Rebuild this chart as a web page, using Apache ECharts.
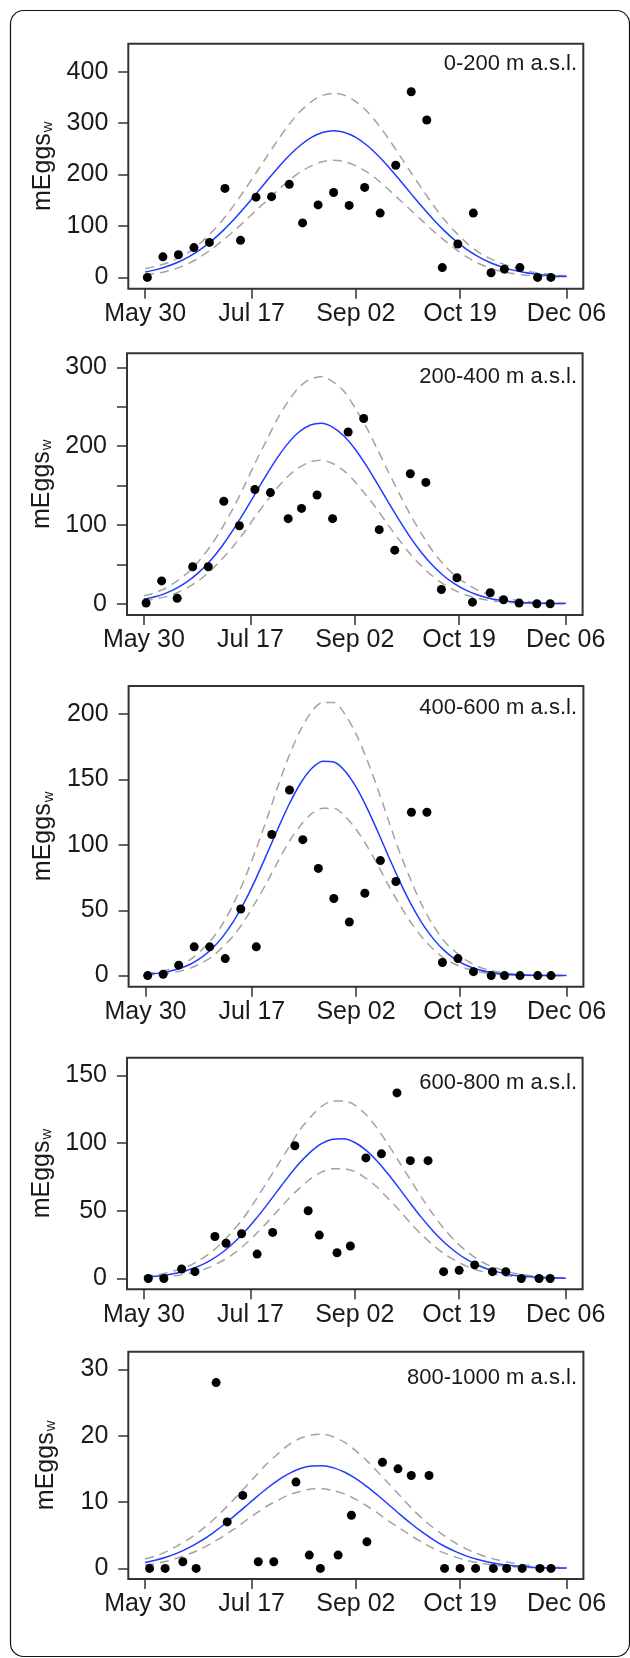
<!DOCTYPE html>
<html>
<head>
<meta charset="utf-8">
<script src="https://cdn.jsdelivr.net/npm/echarts@6/dist/echarts.min.js"></script>
<style>
  html, body { margin: 0; padding: 0; background: #fff; }
  #chart { width: 630px; height: 1658px; }
</style>
</head>
<body>
<div id="chart"></div>
<script>
// x axis: days after May 30
const dayTicks = [0, 48, 95, 142, 190];
const dayLabels = ['May 30', 'Jul 17', 'Sep 02', 'Oct 19', 'Dec 06'];
const panelNames = ['0-200 m a.s.l.', '200-400 m a.s.l.', '400-600 m a.s.l.', '600-800 m a.s.l.', '800-1000 m a.s.l.'];

// sampling days (lower belts / upper belts)
const sampleDaysLow = [1, 8, 15, 22, 29, 36, 43, 50, 57, 65, 71, 78, 85, 92, 99, 106, 113, 120, 127, 134, 141, 148, 156, 162, 169, 177, 183];
const sampleDaysHigh = [2, 9, 17, 23, 32, 37, 44, 51, 58, 68, 74, 79, 87, 93, 100, 107, 114, 120, 128, 135, 142, 149, 157, 163, 170, 178, 183];

// observed mEggs_w
const eggs0_200 = [0, 40, 44, 58, 68, 173, 72, 156, 157, 181, 106, 141, 165, 140, 175, 125, 218, 361, 306, 19, 65, 125, 9, 16, 19, 0, 0];
const eggs200_400 = [1, 29, 7, 47, 47, 130, 99, 145, 141, 108, 121, 138, 108, 218, 235, 94, 68, 165, 154, 18, 33, 2, 14, 5, 1, 0, 0];
const eggs400_600 = [0, 1, 8, 22, 22, 13, 51, 22, 108, 142, 104, 82, 59, 41, 63, 88, 72, 125, 125, 10, 13, 3, 0, 0, 0, 0, 0];
const eggs600_800 = [0, 0, 7, 5, 31, 26, 33, 18, 34, 98, 50, 32, 19, 24, 89, 92, 137, 87, 87, 5, 6, 10, 5, 5, 0, 0, 0];
const eggs800_1000 = [0, 0, 1, 0, 28, 7, 11, 1, 1, 13, 2, 0, 2, 8, 4, 16, 15, 14, 14, 0, 0, 0, 0, 0, 0, 0, 0];

// fitted curve + dashed bounds, read every 5 days (0..190)
const curveDays = [0, 5, 10, 15, 20, 25, 30, 35, 40, 45, 50, 55, 60, 65, 70, 75, 80, 85, 90, 95,
  100, 105, 110, 115, 120, 125, 130, 135, 140, 145, 150, 155, 160, 165, 170, 175, 180, 185, 190];

const fit0_200 = [10.3, 15.1, 21.5, 30, 41, 54.6, 71.1, 90.4, 112.5, 136.7, 162.4, 188.5, 213.9, 237.2, 257, 272.2, 281.8, 285, 281.8, 272.2,
  257, 237.2, 213.9, 188.5, 162.4, 136.7, 112.5, 90.4, 71.1, 54.6, 41, 30, 21.5, 15.1, 10.3, 6.9, 4.5, 2.9, 1.8];
const upper0_200 = [17, 22, 28, 38, 50, 67, 88, 112, 140, 171, 203, 236, 268, 298, 323, 342, 354, 358, 354, 342,
  323, 298, 268, 236, 203, 171, 140, 112, 88, 67, 50, 38, 28, 21, 15, 10, 7, 4.5, 3];
const lower0_200 = [5, 8, 12, 19, 28, 40, 55, 72, 90, 110, 130, 150, 170, 189, 205, 217, 225, 228, 225, 217,
  205, 189, 170, 150, 130, 110, 90, 72, 55, 40, 28, 19, 12, 8, 5, 3, 2, 1, 0.5];

const fit200_400 = [5.6, 8.8, 13.5, 20.1, 28.9, 40.4, 54.9, 72.4, 92.7, 115.2, 138.9, 162.6, 184.8, 203.8, 218.2, 226.8, 228.9, 224.1, 213.1, 196.7,
  176.2, 153.2, 129.3, 106, 84.3, 65.1, 48.8, 35.5, 25.1, 17.2, 11.4, 7.4, 4.6, 2.8, 1.7, 1, 0.5, 0.3, 0.2];
const upper200_400 = [10, 14, 20, 29, 40, 55, 73, 95, 120, 148, 178, 206, 234, 257, 275, 285, 288, 282, 270, 249,
  225, 197, 168, 140, 113, 89, 67, 50, 36, 26, 18, 12, 8, 5.5, 3.5, 2.2, 1.3, 0.8, 0.5];
const lower200_400 = [3.5, 6, 9, 14, 21, 30, 42, 56, 72, 90, 110, 129, 147, 162, 173, 180, 182, 178, 169, 155,
  138, 120, 100, 81, 63, 48, 35, 25, 17, 11, 7, 4.5, 2.8, 1.7, 1, 0.6, 0.3, 0.2, 0.1];

const fit400_600 = [0.9, 1.7, 3, 5.2, 8.5, 13.5, 20.5, 30, 42.3, 57.3, 74.8, 93.8, 113.3, 131.7, 147.2, 158.4, 164, 163.4, 156.6, 144.4,
  128.2, 109.5, 90, 71.1, 54.1, 39.6, 27.9, 18.9, 12.3, 7.7, 4.7, 2.7, 1.5, 0.8, 0.4, 0.2, 0.1, 0.05, 0];
const upper400_600 = [1.5, 2.7, 4.5, 7.5, 12, 19, 28, 40, 56, 75, 97, 121, 146, 169, 188, 202, 209, 209, 200, 185,
  165, 142, 117, 93, 72, 53, 38, 26, 18, 11.5, 7, 4.2, 2.5, 1.4, 0.8, 0.4, 0.2, 0.1, 0.05];
const lower400_600 = [0.5, 1, 1.8, 3.2, 5.5, 9.3, 14.5, 22, 31, 43, 57, 72, 88, 103, 115, 124, 128, 128, 122, 112,
  99, 84, 68, 53.5, 40, 29, 20, 13, 8.5, 5.2, 3, 1.7, 0.9, 0.45, 0.2, 0.1, 0.05, 0.02, 0];

const fit600_800 = [0.9, 1.6, 2.6, 4.1, 6.3, 9.3, 13.4, 18.8, 25.6, 33.7, 43.1, 53.4, 64.3, 75, 85, 93.3, 99.5, 102.8, 103.2, 100.4,
  94.8, 86.8, 77.1, 66.5, 55.6, 45.1, 35.5, 27.1, 20.1, 14.4, 10.1, 6.8, 4.5, 2.8, 1.75, 1.05, 0.6, 0.35, 0.19];
const upper600_800 = [1.5, 2.5, 4, 6.2, 9, 13.5, 19, 26, 35, 45, 57, 70, 83, 96, 109, 119, 127, 131, 131, 128,
  121, 111, 99, 86, 73, 60, 48, 37, 28, 20.5, 14.5, 10, 7, 4.5, 3, 2, 1.2, 0.7, 0.4];
const lower600_800 = [0.4, 0.75, 1.3, 2.2, 3.6, 5.7, 8.6, 12.7, 17.8, 24.3, 32, 40.5, 49.5, 58.5, 66.5, 73.5, 78.5, 81, 81, 79,
  74, 67.5, 59, 50.5, 41, 32.5, 25, 18.5, 13.5, 9.3, 6.3, 4.1, 2.6, 1.6, 0.9, 0.5, 0.3, 0.15, 0.1];

const fit800_1000 = [0.87, 1.25, 1.74, 2.37, 3.16, 4.1, 5.21, 6.46, 7.83, 9.26, 10.7, 12.07, 13.3, 14.31, 15.04, 15.43, 15.47, 15.14, 14.48, 13.52,
  12.33, 10.98, 9.55, 8.11, 6.73, 5.45, 4.31, 3.33, 2.52, 1.85, 1.33, 0.94, 0.64, 0.43, 0.28, 0.18, 0.11, 0.07, 0.04];
const upper800_1000 = [1.4, 1.9, 2.6, 3.5, 4.5, 5.7, 7.1, 8.7, 10.4, 12.2, 14, 15.8, 17.3, 18.7, 19.6, 20.1, 20.2, 19.8, 19, 17.7,
  16.2, 14.5, 12.7, 10.9, 9.1, 7.5, 6.1, 4.9, 3.8, 2.9, 2.2, 1.6, 1.2, 0.85, 0.6, 0.42, 0.3, 0.2, 0.12];
const lower800_1000 = [0.5, 0.75, 1.1, 1.6, 2.2, 2.9, 3.8, 4.8, 5.9, 7.1, 8.3, 9.4, 10.3, 11.1, 11.6, 11.95, 12, 11.7, 11.2, 10.4,
  9.4, 8.3, 7.1, 6, 4.9, 3.9, 3, 2.3, 1.7, 1.2, 0.85, 0.6, 0.4, 0.25, 0.15, 0.09, 0.05, 0.03, 0.02];

// y ticks (marks) and labelled ticks per panel
const yTicks = [[0, 100, 200, 300, 400], [0, 50, 100, 150, 200, 250, 300], [0, 50, 100, 150, 200], [0, 50, 100, 150], [0, 10, 20, 30]];
const yTickLabels = [[0, 100, 200, 300, 400], [0, 100, 200, 300], [0, 50, 100, 150, 200], [0, 50, 100, 150], [0, 10, 20, 30]];

const panels = [
  { days: sampleDaysLow, eggs: eggs0_200, fit: fit0_200, upper: upper0_200, lower: lower0_200 },
  { days: sampleDaysLow, eggs: eggs200_400, fit: fit200_400, upper: upper200_400, lower: lower200_400 },
  { days: sampleDaysLow, eggs: eggs400_600, fit: fit400_600, upper: upper400_600, lower: lower400_600 },
  { days: sampleDaysHigh, eggs: eggs600_800, fit: fit600_800, upper: upper600_800, lower: lower600_800 },
  { days: sampleDaysHigh, eggs: eggs800_1000, fit: fit800_1000, upper: upper800_1000, lower: lower800_1000 },
];

// layout (pixels) and axis extents
const grids = [
  { left: 128.3, top: 43.7, width: 455, height: 245 },
  { left: 127, top: 353.3, width: 455.6, height: 261.7 },
  { left: 128.6, top: 686, width: 454.8, height: 300.7 },
  { left: 127, top: 1057.7, width: 455.6, height: 231.6 },
  { left: 128.3, top: 1351.7, width: 455.1, height: 227.3 },
];
const yRanges = [[-22, 454.5], [-14.3, 317.8], [-8.5, 221.6], [-8, 163], [-1.6, 32.65]];
const labelBaselines = [71.7, 384, 715.7, 1090.7, 1385];

const FONT = 'Liberation Sans, Arial, Helvetica, sans-serif';
const INK = '#1a1a1a';
const zip = (xs, ys) => xs.map((x, i) => [x, ys[i]]);

const option = {
  animation: false,
  textStyle: { fontFamily: FONT },
  title: [],
  grid: [],
  xAxis: [],
  yAxis: [],
  series: [],
  graphic: [{
    type: 'rect',
    shape: { x: 10.5, y: 10.5, width: 619, height: 1646, r: 13 },
    style: { fill: 'none', stroke: '#111', lineWidth: 1.2 },
  }],
};

panels.forEach((p, i) => {
  const g = grids[i];
  option.grid.push({ ...g, show: true, borderColor: '#333', borderWidth: 2, backgroundColor: 'transparent' });

  option.title.push({
    text: panelNames[i],
    right: 53,
    top: labelBaselines[i] - 18.5,
    padding: 0,
    textStyle: { fontSize: 22, fontWeight: 'normal', color: INK, fontFamily: FONT },
  });

  option.xAxis.push({
    gridIndex: i,
    type: 'value',
    min: -7.6,
    max: 197.6,
    axisLine: { show: false, onZero: false },
    splitLine: { show: false },
    axisTick: { show: true, length: 10, customValues: dayTicks, lineStyle: { color: '#333', width: 1.5 } },
    axisLabel: {
      customValues: dayTicks,
      margin: 13,
      fontSize: 25,
      color: INK,
      fontFamily: FONT,
      formatter: v => dayLabels[dayTicks.indexOf(v)],
    },
  });

  option.yAxis.push({
    gridIndex: i,
    type: 'value',
    min: yRanges[i][0],
    max: yRanges[i][1],
    axisLine: { show: false, onZero: false },
    splitLine: { show: false },
    axisTick: { show: true, length: 10, customValues: yTicks[i], lineStyle: { color: '#333', width: 1.5 } },
    axisLabel: { customValues: yTickLabels[i], margin: 20, fontSize: 25, color: INK, fontFamily: FONT },
    name: '{m|mEggs}{w|w}',
    nameLocation: 'middle',
    nameRotate: 90,
    nameGap: 70,
    nameTextStyle: {
      color: INK,
      fontSize: 25,
      fontFamily: FONT,
      rich: {
        m: { fontSize: 25, lineHeight: 25, verticalAlign: 'top', fontFamily: FONT, color: INK },
        w: { fontSize: 15, lineHeight: 15, verticalAlign: 'bottom', padding: [11, 0, 0, 1], fontFamily: FONT, color: INK },
      },
    },
  });

  const dashed = { color: '#a3a3a3', width: 1.5, type: [9, 6] };
  option.series.push(
    { type: 'line', xAxisIndex: i, yAxisIndex: i, data: zip(curveDays, p.upper), smooth: 0.3, showSymbol: false, lineStyle: dashed, z: 2 },
    { type: 'line', xAxisIndex: i, yAxisIndex: i, data: zip(curveDays, p.lower), smooth: 0.3, showSymbol: false, lineStyle: dashed, z: 2 },
    { type: 'line', xAxisIndex: i, yAxisIndex: i, data: zip(curveDays, p.fit), smooth: 0.3, showSymbol: false, lineStyle: { color: '#1f3bff', width: 1.5 }, z: 3 },
    { type: 'scatter', xAxisIndex: i, yAxisIndex: i, data: zip(p.days, p.eggs), symbol: 'circle', symbolSize: 9, itemStyle: { color: '#000', opacity: 1 }, z: 4 }
  );
});

const chart = echarts.init(document.getElementById('chart'));
chart.setOption(option);
</script>
</body>
</html>
